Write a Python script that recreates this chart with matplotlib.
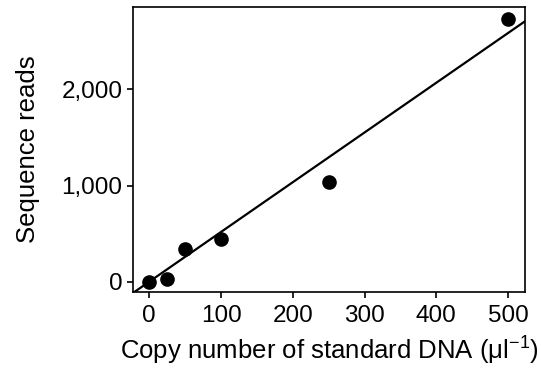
import numpy as np
import matplotlib
matplotlib.use('Agg')
import matplotlib.pyplot as plt
from matplotlib.ticker import FuncFormatter

plt.rcParams['font.family'] = ['Liberation Sans', 'DejaVu Sans']
plt.rcParams['mathtext.default'] = 'regular'

# standard DNA copies vs sequence reads
copies = np.array([0, 25, 50, 100, 250, 500])
reads = np.array([0, 25, 337, 441, 1033, 2728])
xticks = [0, 100, 200, 300, 400, 500]
yticks = [0, 1000, 2000]

# regression through the origin
slope = np.sum(copies * reads) / np.sum(copies * copies)
xlim = (-23, 524)
ylim = (-110, 2859)

fig = plt.figure(figsize=(5.41, 3.70), dpi=100)
ax = fig.add_axes([0.2453, 0.21, 0.7258, 0.772])

xl = np.array(xlim)
ax.plot(xl, slope * xl, color='black', lw=1.6, zorder=2)
ax.plot(copies, reads, 'o', color='black', ms=9.5, zorder=3)

ax.set_xlim(*xlim)
ax.set_ylim(*ylim)
ax.set_xticks(xticks)
ax.set_yticks(yticks)
ax.yaxis.set_major_formatter(FuncFormatter(lambda v, p: '{:,.0f}'.format(v)))

for s in ax.spines.values():
    s.set_linewidth(1.2)
ax.tick_params(direction='out', length=4.5, width=1.2, labelsize=17.5, pad=3)
ax.tick_params(axis='x', pad=5)

ax.set_xlabel('Copy number of standard DNA (μl$^{−1}$)', fontsize=18.5, labelpad=5)
ax.set_ylabel('Sequence reads', fontsize=18.5, labelpad=15)

fig.savefig('out.png', dpi=100)
